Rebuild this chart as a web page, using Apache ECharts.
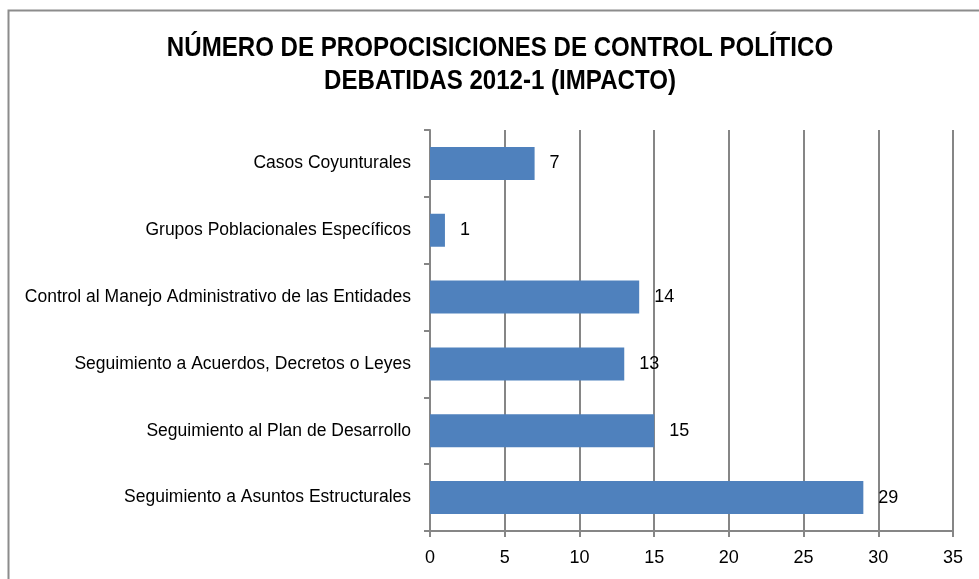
<!DOCTYPE html>
<html>
<head>
<meta charset="utf-8">
<script src="https://cdn.jsdelivr.net/npm/echarts@6/dist/echarts.min.js"></script>
<style>
  html, body { margin: 0; padding: 0; background: #fff; }
  #main { width: 979px; height: 579px; }
</style>
</head>
<body>
<div id="main"></div>
<script>
// datos del gráfico (de abajo hacia arriba)
var categorias = [
  "Seguimiento a Asuntos Estructurales",
  "Seguimiento al Plan de Desarrollo",
  "Seguimiento a Acuerdos, Decretos o Leyes",
  "Control al Manejo Administrativo de las Entidades",
  "Grupos Poblacionales Específicos",
  "Casos Coyunturales"
];
var valores = [29, 15, 13, 14, 1, 7];
var tituloLineas = [
  "NÚMERO DE PROPOCISICIONES DE CONTROL POLÍTICO",
  "DEBATIDAS 2012-1 (IMPACTO)"
];

var chart = echarts.init(document.getElementById("main"));
var axisGray = "#868686";
var fuente = "'Liberation Sans', Arial";

// titulo: letra condensada (escala horizontal)
var tituloGraf = tituloLineas.map(function (t, i) {
  return {
    type: "text",
    x: 500,
    y: 48 + i * 33,
    scaleX: 0.86,
    silent: true,
    style: {
      text: t,
      fill: "#000",
      font: "bold 28px " + fuente,
      textAlign: "center",
      textVerticalAlign: "middle"
    }
  };
});

var opt = {
  animation: false,
  graphic: [
    {
      type: "rect",
      shape: { x: 8.5, y: 10.5, width: 1000, height: 600 },
      style: { fill: "none", stroke: "#8c8c8c", lineWidth: 2 },
      silent: true
    }
  ].concat(tituloGraf),
  grid: { left: 430, right: 26, top: 130, bottom: 48 },
  xAxis: {
    type: "value",
    min: 0,
    max: 35,
    interval: 5,
    axisLine: { show: true, lineStyle: { color: axisGray, width: 2 } },
    axisTick: { show: true, length: 6, lineStyle: { color: axisGray, width: 2 } },
    splitLine: { show: true, lineStyle: { color: axisGray, width: 2 } },
    axisLabel: {
      color: "#000",
      fontSize: 18,
      margin: 18,
      fontFamily: fuente
    }
  },
  yAxis: {
    type: "category",
    data: categorias,
    axisLine: { show: true, lineStyle: { color: axisGray, width: 2 } },
    axisTick: { show: true, length: 6, lineStyle: { color: axisGray, width: 2 } },
    axisLabel: {
      color: "#000",
      fontSize: 17.5,
      margin: 19,
      fontFamily: fuente
    }
  },
  series: [
    {
      type: "bar",
      data: valores,
      barWidth: 33,
      itemStyle: { color: "#4F81BD" },
      label: {
        show: true,
        position: "right",
        distance: 15,
        color: "#000",
        fontSize: 18,
        fontFamily: fuente
      }
    }
  ]
};
chart.setOption(opt);
</script>
</body>
</html>
